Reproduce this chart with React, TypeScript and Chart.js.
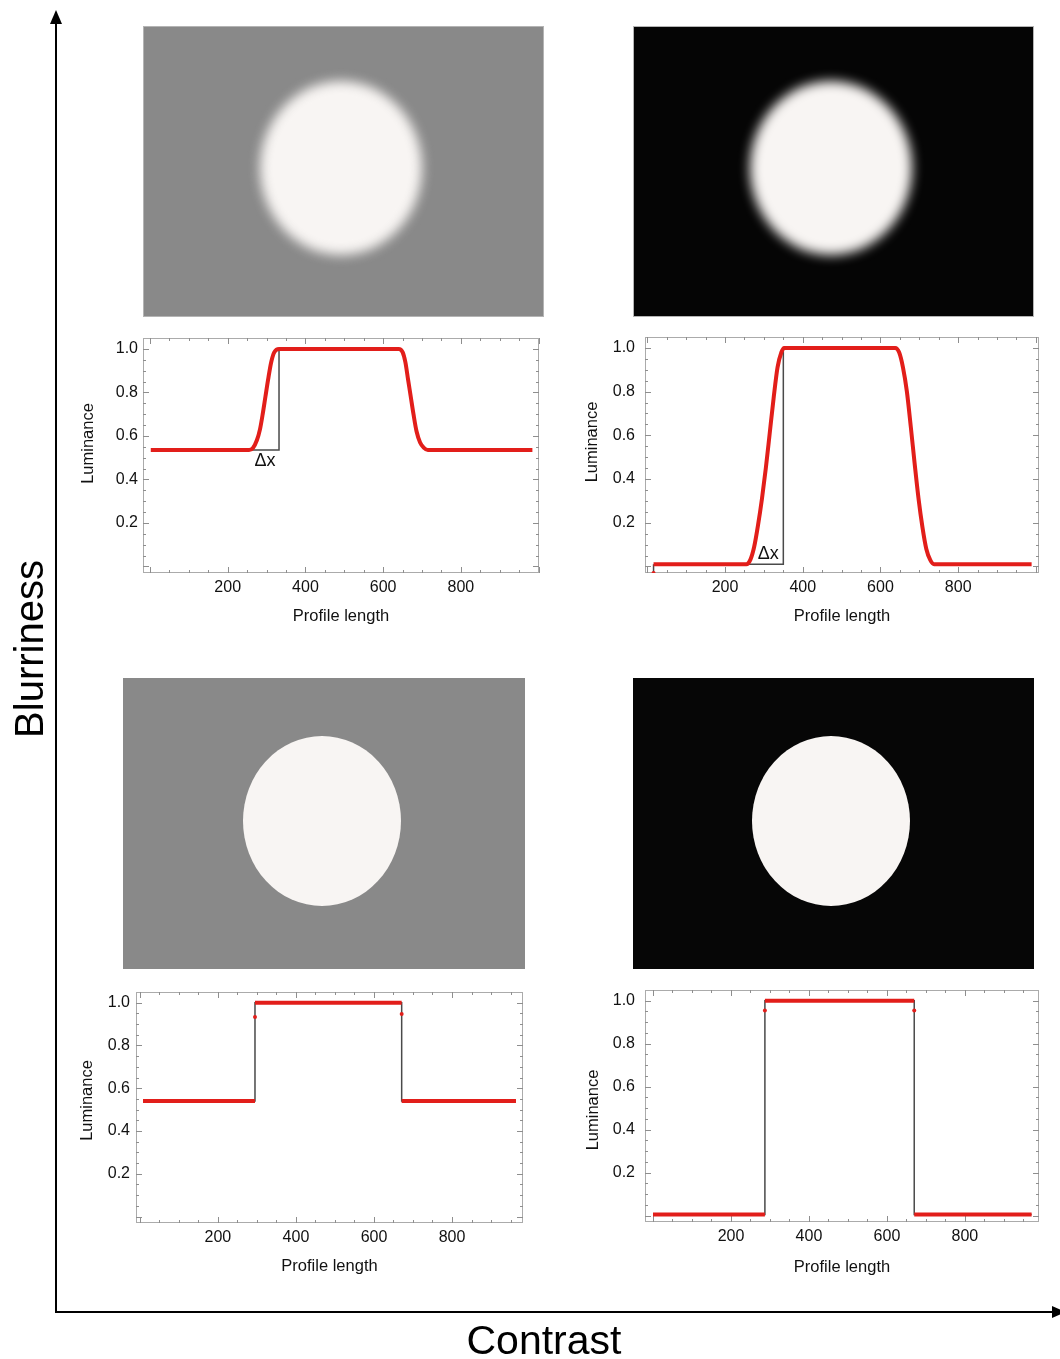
import React, { useEffect, useRef } from "react";
import { Chart, registerables } from "chart.js";

Chart.register(...registerables);

const FONT = '"Liberation Sans", Arial, Helvetica, sans-serif';
const RED = "rgb(226,30,26)";
const CONNECT = "#4a4a4a";

// ---- shared axis content ----
const X_TITLE = "Profile length";
const Y_TITLE = "Luminance";
const X_TICKS = [200, 400, 600, 800];
const Y_TICKS = [0.2, 0.4, 0.6, 0.8, 1.0];
const AXIS_BLUR = "Blurriness";
const AXIS_CONTRAST = "Contrast";
const DELTA_LABEL = "Δx";

// ---- top-left: blurred edge, grey background ----
const blurGreyX = [2, 255, 265, 275, 283, 290, 297, 304, 312, 320, 332, 640, 650, 657, 664, 671, 678, 686, 695, 705, 715, 984];
const blurGreyY = [0.535, 0.535, 0.545, 0.58, 0.63, 0.7, 0.78, 0.86, 0.94, 0.985, 1.0, 1.0, 0.985, 0.94, 0.86, 0.78, 0.7, 0.62, 0.57, 0.545, 0.535, 0.535];
const deltaGreyX = [257, 332, 332];
const deltaGreyY = [0.535, 0.535, 1.0];
const deltaGreyLabel = { x: 296, y: 0.485 };

// ---- top-right: blurred edge, black background ----
const blurBlackX = [16, 255, 265, 275, 285, 295, 305, 315, 325, 335, 345, 352, 638, 648, 658, 668, 678, 688, 698, 708, 718, 728, 738, 989];
const blurBlackY = [0.01, 0.01, 0.03, 0.09, 0.19, 0.31, 0.45, 0.61, 0.77, 0.91, 0.98, 1.0, 1.0, 0.98, 0.91, 0.8, 0.64, 0.47, 0.31, 0.18, 0.08, 0.03, 0.01, 0.01];
const blurBlackStubX = [16, 16];
const blurBlackStubY = [0.01, -0.03];
const deltaBlackX = [257, 350, 350];
const deltaBlackY = [0.01, 0.01, 1.0];
const deltaBlackLabel = { x: 311, y: 0.055 };

// ---- bottom-left: sharp edge, grey background ----
const sharpGreyX = [8, 295, 295, 671, 671, 964];
const sharpGreyY = [0.54, 0.54, 1.0, 1.0, 0.54, 0.54];
const sharpGreyDotX = [295, 671];
const sharpGreyDotY = [0.933, 0.947];

// ---- bottom-right: sharp edge, black background ----
const sharpBlackX = [0, 287, 287, 670, 670, 971];
const sharpBlackY = [0.005, 0.005, 1.0, 1.0, 0.005, 0.005];
const sharpBlackDotX = [287, 670];
const sharpBlackDotY = [0.955, 0.955];

const zip = (xs: number[], ys: number[]) => xs.map((x, i) => ({ x, y: ys[i] }));
// red plateau pieces of a step profile: pairs (0-1), (2-3), (4-5) separated by gaps
const stepPieces = (xs: number[], ys: number[]) => {
  const out: { x: number; y: number | null }[] = [];
  for (let i = 0; i < xs.length; i += 2) {
    if (i > 0) out.push({ x: (xs[i - 1] + xs[i]) / 2, y: null });
    out.push({ x: xs[i], y: ys[i] });
    out.push({ x: xs[i + 1], y: ys[i + 1] });
  }
  return out;
};

const framePlugin = {
  id: "mmaFrame",
  beforeDatasetsDraw(chart: any) {
    const { ctx, chartArea: a, scales } = chart;
    const x = scales.x;
    const y = scales.y;
    ctx.save();
    ctx.strokeStyle = "#ababab";
    ctx.lineWidth = 1;
    ctx.strokeRect(a.left + 0.5, a.top + 0.5, a.right - a.left - 1, a.bottom - a.top - 1);
    ctx.strokeStyle = "#8e8e8e";
    ctx.beginPath();
    for (let v = 0; v <= x.max; v += 50) {
      if (v < x.min) continue;
      const px = Math.round(x.getPixelForValue(v)) + 0.5;
      const len = v % 200 === 0 ? 6 : 3;
      ctx.moveTo(px, a.bottom);
      ctx.lineTo(px, a.bottom - len);
      ctx.moveTo(px, a.top);
      ctx.lineTo(px, a.top + len);
    }
    for (let i = 0; i <= 20; i++) {
      const v = i * 0.05;
      if (v < y.min || v > y.max) continue;
      const py = Math.round(y.getPixelForValue(v)) + 0.5;
      const len = i % 4 === 0 ? 6 : 3;
      ctx.moveTo(a.left, py);
      ctx.lineTo(a.left + len, py);
      ctx.moveTo(a.right, py);
      ctx.lineTo(a.right - len, py);
    }
    ctx.stroke();
    ctx.restore();
  },
  afterDraw(chart: any, _args: any, opts: any) {
    const { ctx, scales, chartArea: a } = chart;
    ctx.save();
    ctx.fillStyle = "#111";
    // y-axis title
    ctx.font = `16.5px ${FONT}`;
    ctx.textAlign = "center";
    ctx.textBaseline = "middle";
    ctx.translate(scales.y.left + opts.yTitleX, (a.top + a.bottom) / 2 + opts.yTitleDy);
    ctx.rotate(-Math.PI / 2);
    ctx.fillText(Y_TITLE, 0, 0);
    ctx.restore();
    if (opts.label) {
      ctx.save();
      ctx.fillStyle = "#111";
      ctx.font = `18px ${FONT}`;
      ctx.textAlign = "center";
      ctx.textBaseline = "middle";
      ctx.fillText(DELTA_LABEL, scales.x.getPixelForValue(opts.label.x), scales.y.getPixelForValue(opts.label.y));
      ctx.restore();
    }
  },
};

type Spec = {
  left: number; top: number; width: number; height: number;
  xMin: number; xMax: number; yMin: number; yMax: number;
  yAxisWidth: number; xAxisHeight: number; padTop: number; padRight: number;
  yTickPad: number; xTickPad: number; yTitleX: number; yTitleDy: number; xTitlePad: number;
  datasets: any[];
  label?: { x: number; y: number };
};

const redLine = (data: any[], smooth: boolean) => ({
  data,
  borderColor: RED,
  backgroundColor: RED,
  borderWidth: 4,
  pointRadius: 0,
  spanGaps: false,
  cubicInterpolationMode: smooth ? "monotone" : "default",
  order: 1,
});
const greyLine = (data: any[]) => ({
  data,
  borderColor: CONNECT,
  borderWidth: 1.5,
  pointRadius: 0,
  order: 2,
});
const redDots = (data: any[]) => ({
  data,
  showLine: false,
  pointRadius: 2,
  pointBackgroundColor: RED,
  pointBorderWidth: 0,
  order: 0,
});

const specs: Spec[] = [
  {
    left: 70, top: 330, width: 480, height: 305,
    xMin: -18, xMax: 1001, yMin: -0.03, yMax: 1.05,
    yAxisWidth: 73, xAxisHeight: 62, padTop: 8, padRight: 11,
    yTickPad: 5, xTickPad: 5, yTitleX: 18, yTitleDy: -12, xTitlePad: 8.4,
    datasets: [greyLine(zip(deltaGreyX, deltaGreyY)), redLine(zip(blurGreyX, blurGreyY), true)],
    label: deltaGreyLabel,
  },
  {
    left: 575, top: 330, width: 480, height: 305,
    xMin: -6, xMax: 1008, yMin: -0.03, yMax: 1.05,
    yAxisWidth: 70, xAxisHeight: 62, padTop: 7, padRight: 16,
    yTickPad: 10, xTickPad: 5, yTitleX: 17, yTitleDy: -13, xTitlePad: 8.4,
    datasets: [
      greyLine(zip(deltaBlackX, deltaBlackY)),
      greyLine(zip(blurBlackStubX, blurBlackStubY)),
      redLine(zip(blurBlackX, blurBlackY), true),
      redDots(zip(blurBlackStubX.slice(1), blurBlackStubY.slice(1))),
    ],
    label: deltaBlackLabel,
  },
  {
    left: 70, top: 985, width: 465, height: 305,
    xMin: -10, xMax: 982, yMin: -0.03, yMax: 1.05,
    yAxisWidth: 66, xAxisHeight: 67, padTop: 7, padRight: 12,
    yTickPad: 6, xTickPad: 4.5, yTitleX: 17, yTitleDy: -7, xTitlePad: 13.4,
    datasets: [
      greyLine(zip(sharpGreyX, sharpGreyY)),
      redLine(stepPieces(sharpGreyX, sharpGreyY), false),
      redDots(zip(sharpGreyDotX, sharpGreyDotY)),
    ],
  },
  {
    left: 580, top: 985, width: 470, height: 305,
    xMin: -20.5, xMax: 990, yMin: -0.03, yMax: 1.05,
    yAxisWidth: 65, xAxisHeight: 68, padTop: 5, padRight: 11,
    yTickPad: 10, xTickPad: 4.5, yTitleX: 13, yTitleDy: 4, xTitlePad: 12.4,
    datasets: [
      greyLine(zip(sharpBlackX, sharpBlackY)),
      redLine(stepPieces(sharpBlackX, sharpBlackY), false),
      redDots(zip(sharpBlackDotX, sharpBlackDotY)),
    ],
  },
];

function ProfileChart({ spec }: { spec: Spec }) {
  const ref = useRef<HTMLCanvasElement | null>(null);
  useEffect(() => {
    if (!ref.current) return;
    const chart = new Chart(ref.current, {
      type: "line",
      data: { datasets: spec.datasets },
      plugins: [framePlugin as any],
      options: {
        animation: false,
        responsive: false,
        devicePixelRatio: 1,
        layout: { padding: { top: spec.padTop, right: spec.padRight, left: 0, bottom: 0 } },
        plugins: {
          legend: { display: false },
          tooltip: { enabled: false },
          mmaFrame: { label: spec.label, yTitleX: spec.yTitleX, yTitleDy: spec.yTitleDy },
        } as any,
        scales: {
          x: {
            type: "linear",
            min: spec.xMin,
            max: spec.xMax,
            grid: { display: false, drawTicks: false },
            border: { display: false },
            afterBuildTicks: (s: any) => { s.ticks = X_TICKS.map((v) => ({ value: v })); },
            afterFit: (s: any) => { s.height = spec.xAxisHeight; s.paddingLeft = 0; s.paddingRight = 0; },
            ticks: {
              autoSkip: false, maxRotation: 0, padding: spec.xTickPad, color: "#111",
              font: { family: FONT, size: 16 },
              callback: (v: any) => String(v),
            },
            title: {
              display: true, text: X_TITLE, color: "#111",
              font: { family: FONT, size: 16.5 },
              padding: { top: 0, bottom: spec.xTitlePad },
            },
          },
          y: {
            type: "linear",
            min: spec.yMin,
            max: spec.yMax,
            grid: { display: false, drawTicks: false },
            border: { display: false },
            afterBuildTicks: (s: any) => { s.ticks = Y_TICKS.map((v) => ({ value: v })); },
            afterFit: (s: any) => { s.width = spec.yAxisWidth; s.paddingTop = 0; s.paddingBottom = 0; },
            ticks: {
              autoSkip: false, padding: spec.yTickPad, color: "#111",
              font: { family: FONT, size: 16 },
              callback: (v: any) => Number(v).toFixed(1),
            },
            title: { display: false },
          },
        },
      } as any,
    });
    return () => chart.destroy();
  }, [spec]);
  return (
    <canvas
      ref={ref}
      width={spec.width}
      height={spec.height}
      style={{ position: "absolute", left: spec.left, top: spec.top, width: spec.width, height: spec.height }}
    />
  );
}

type Stim = { left: number; top: number; w: number; h: number; bg: string; cx: number; cy: number; rx: number; ry: number; blur: number; border: boolean };
const stimuli: Stim[] = [
  { left: 143, top: 26, w: 401, h: 291, bg: "#898989", cx: 198, cy: 142, rx: 81, ry: 87, blur: 6, border: true },
  { left: 633, top: 26, w: 401, h: 291, bg: "#050505", cx: 198, cy: 142, rx: 81, ry: 87, blur: 6, border: true },
  { left: 123, top: 678, w: 402, h: 291, bg: "#898989", cx: 199, cy: 143, rx: 79, ry: 85, blur: 0, border: false },
  { left: 633, top: 678, w: 401, h: 291, bg: "#060606", cx: 198, cy: 143, rx: 79, ry: 85, blur: 0, border: false },
];

function Stimulus({ s }: { s: Stim }) {
  return (
    <div
      style={{
        position: "absolute", left: s.left, top: s.top, width: s.w, height: s.h,
        background: s.bg, overflow: "hidden",
        boxShadow: s.border ? "inset 0 0 0 1px #b4b4b4" : "none",
      }}
    >
      <div
        style={{
          position: "absolute", left: s.cx - s.rx, top: s.cy - s.ry, width: 2 * s.rx, height: 2 * s.ry,
          borderRadius: "50%", background: "#f8f5f3",
          filter: s.blur ? `blur(${s.blur}px)` : "none",
        }}
      />
    </div>
  );
}

export default function App() {
  return (
    <div
      style={{
        position: "absolute", left: 0, top: 0, width: 1060, height: 1359,
        background: "#fff", overflow: "hidden", fontFamily: FONT,
      }}
    >
      {stimuli.map((s, i) => <Stimulus key={i} s={s} />)}
      {specs.map((s, i) => <ProfileChart key={i} spec={s} />)}
      <svg width={1060} height={1359} style={{ position: "absolute", left: 0, top: 0 }}>
        <line x1={56} y1={22} x2={56} y2={1313} stroke="#000" strokeWidth={2} />
        <polygon points="56,10 50,24 62,24" fill="#000" />
        <line x1={55} y1={1312} x2={1052} y2={1312} stroke="#000" strokeWidth={2} />
        <polygon points="1066,1312 1052,1306 1052,1318" fill="#000" />
      </svg>
      <div
        style={{
          position: "absolute", left: 29 - 150, top: 649 - 20, width: 300, height: 40,
          lineHeight: "40px", fontSize: 40, textAlign: "center", color: "#000",
          transform: "rotate(-90deg)", whiteSpace: "nowrap",
        }}
      >
        {AXIS_BLUR}
      </div>
      <div
        style={{
          position: "absolute", left: 544 - 150, top: 1320, width: 300, height: 40,
          lineHeight: "40px", fontSize: 41, textAlign: "center", color: "#000", whiteSpace: "nowrap",
        }}
      >
        {AXIS_CONTRAST}
      </div>
    </div>
  );
}
